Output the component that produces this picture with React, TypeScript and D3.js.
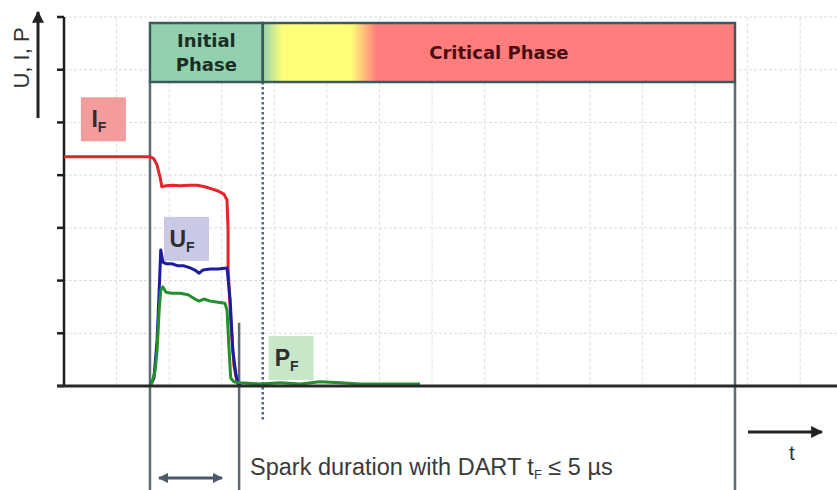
import React from 'react';
import * as d3 from 'd3';

// time in grid divisions, value in grid divisions
const currentT = [0, 1.635, 1.71, 1.77, 1.83, 1.86, 1.94, 2.05, 2.21, 2.40, 2.53, 2.68, 2.81, 2.93, 3.04, 3.10, 3.12, 3.12, 3.17, 3.23, 3.29, 3.35];
const currentV = [4.35, 4.35, 4.31, 4.19, 3.95, 3.78, 3.80, 3.81, 3.80, 3.81, 3.81, 3.78, 3.74, 3.70, 3.64, 3.53, 2.96, 2.26, 1.25, 0.40, 0.08, 0.0];

const voltageT = [1.635, 1.71, 1.77, 1.81, 1.84, 1.88, 1.94, 2.05, 2.17, 2.28, 2.40, 2.49, 2.57, 2.64, 2.78, 2.93, 3.10, 3.16, 3.21, 3.27, 3.31, 3.37];
const voltageV = [0, 0.15, 0.87, 1.82, 2.58, 2.35, 2.32, 2.32, 2.28, 2.28, 2.24, 2.20, 2.14, 2.20, 2.22, 2.22, 2.24, 1.63, 0.68, 0.21, 0.04, 0];

const powerT = [1.635, 1.67, 1.73, 1.77, 1.81, 1.84, 1.88, 1.94, 2.05, 2.21, 2.36, 2.49, 2.57, 2.66, 2.78, 2.93, 3.06, 3.10, 3.14, 3.17, 3.23, 3.35, 3.73, 4.11, 4.49, 4.87, 5.25, 5.63, 6.39, 6.77];
const powerV = [0, 0.06, 0.27, 0.68, 1.44, 1.82, 1.88, 1.78, 1.76, 1.76, 1.73, 1.65, 1.61, 1.65, 1.61, 1.59, 1.57, 1.44, 0.68, 0.15, 0.08, 0.06, 0.04, 0.06, 0.04, 0.08, 0.06, 0.04, 0.04, 0.04];

const phaseNames = ['Initial Phase', 'Critical Phase'];
const phaseStart = [1.635, 3.78];
const phaseEnd = [3.78, 12.76];
const sparkEnd = 3.33;

const labelNames = ['I', 'U', 'P'];
const labelT = [0.74, 2.32, 4.31];
const labelV = [5.06, 2.79, 0.53];

const yTicks = [0, 1, 2, 3, 4, 5, 6, 7];
const xGrid = [1, 2, 3, 4, 5, 6, 7, 8, 9, 10, 11, 12, 13, 14];

const W = 837;
const H = 490;

export default function App() {
  const x = d3.scaleLinear().domain([0, 14.7]).range([64, 837]);
  const y = d3.scaleLinear().domain([0, 7]).range([386, 17]);

  const line = d3.line<[number, number]>()
    .x(d => x(d[0]))
    .y(d => y(d[1]))
    .curve(d3.curveLinear);

  const zip = (ts: number[], vs: number[]) => ts.map((t, i) => [t, vs[i]] as [number, number]);

  const boxTop = 23;
  const boxBottom = 82;
  const labelFill = ['#f49c9c', '#c9c9e6', '#c8e7c8'];
  const sans = '"Liberation Sans", Arial, sans-serif';
  const bold = '"DejaVu Sans", Verdana, sans-serif';
  const slate = '#5b6b78';

  const x0 = x(phaseStart[1]);
  const x1 = x(phaseEnd[1]);
  const frac = (px: number) => `${((px - x0) / (x1 - x0)) * 100}%`;

  return (
    <svg width={W} height={H} style={{ position: 'absolute', left: 0, top: 0, background: '#fff' }}>
      <defs>
        <linearGradient id="crit" gradientUnits="userSpaceOnUse" x1={x0} x2={x1} y1={0} y2={0}>
          <stop offset="0%" stopColor="#93d1ae" />
          <stop offset={frac(x0 + 20)} stopColor="#ffff78" />
          <stop offset={frac(x0 + 88)} stopColor="#ffff78" />
          <stop offset={frac(x0 + 114)} stopColor="#ff7d7d" />
          <stop offset="100%" stopColor="#ff7d7d" />
        </linearGradient>
        <marker id="ah" viewBox="0 0 10 10" refX="9" refY="5" markerWidth="4" markerHeight="4" orient="auto-start-reverse">
          <path d="M0,0 L10,5 L0,10 z" fill="#222" />
        </marker>
        <marker id="ah2" viewBox="0 0 10 10" refX="9" refY="5" markerWidth="3.5" markerHeight="3.5" orient="auto-start-reverse">
          <path d="M0,0 L10,5 L0,10 z" fill="#4a5a6a" />
        </marker>
      </defs>

      {/* grid */}
      {yTicks.slice(1).map(v => (
        <line key={'gy' + v} x1={x(0)} x2={W} y1={y(v)} y2={y(v)} stroke="#dcdcdc" strokeWidth={1} strokeDasharray="3,2" />
      ))}
      {xGrid.map(t => (
        <line key={'gx' + t} x1={x(t)} x2={x(t)} y1={y(7)} y2={y(0)} stroke="#e2e2e2" strokeWidth={1} strokeDasharray="4,2" />
      ))}

      {/* y axis */}
      <line x1={x(0)} x2={x(0)} y1={y(7)} y2={y(0)} stroke="#1e1e1e" strokeWidth={2.5} />
      {yTicks.map(v => (
        <line key={'t' + v} x1={x(0) - 7} x2={x(0)} y1={y(v)} y2={y(v)} stroke="#1e1e1e" strokeWidth={2.5} />
      ))}

      {/* phase vertical lines */}
      <line x1={x(phaseStart[0])} x2={x(phaseStart[0])} y1={boxBottom} y2={H} stroke={slate} strokeWidth={2.5} />
      <line x1={x(phaseEnd[1])} x2={x(phaseEnd[1])} y1={boxBottom} y2={H} stroke={slate} strokeWidth={2.5} />
      <line x1={x(sparkEnd)} x2={x(sparkEnd)} y1={y(1.2)} y2={H} stroke={slate} strokeWidth={2.5} />
      <line x1={x(phaseStart[1])} x2={x(phaseStart[1])} y1={boxBottom} y2={420} stroke="#56648a" strokeWidth={2.5} strokeDasharray="2.5,2.5" />

      {/* labels */}
      {labelNames.map((n, i) => (
        <g key={n} transform={`translate(${x(labelT[i])},${y(labelV[i])})`}>
          <rect x={-22} y={-22} width={45} height={44} fill={labelFill[i]} />
          <text x={-4} y={8} textAnchor="middle" fontFamily={sans} fontWeight="bold" fontSize={23} fill="#2e2e2e">
            {n}
            <tspan fontSize={14} dy={5}>F</tspan>
          </text>
        </g>
      ))}

      {/* curves */}
      <path d={line(zip(currentT, currentV)) ?? ''} fill="none" stroke="#e8242a" strokeWidth={3} strokeLinejoin="round" />
      <path d={line(zip(voltageT, voltageV)) ?? ''} fill="none" stroke="#1c1ca0" strokeWidth={3} strokeLinejoin="round" />
      <path d={line(zip(powerT, powerV)) ?? ''} fill="none" stroke="#22902c" strokeWidth={3} strokeLinejoin="round" />

      {/* baseline */}
      <line x1={x(0) - 7} x2={W} y1={y(0)} y2={y(0)} stroke="#2a2a2a" strokeWidth={3} />

      {/* phase boxes */}
      <rect x={x(phaseStart[0])} y={boxTop} width={x(phaseEnd[0]) - x(phaseStart[0])} height={boxBottom - boxTop}
        fill="#93d1ae" stroke="#3c5a5c" strokeWidth={2.5} />
      <rect x={x0} y={boxTop} width={x1 - x0} height={boxBottom - boxTop}
        fill="url(#crit)" stroke="#3c5a5c" strokeWidth={2.5} />
      <text x={(x(phaseStart[0]) + x(phaseEnd[0])) / 2} textAnchor="middle" fontFamily={bold} fontWeight="bold" fontSize={18} fill="#1b2e26">
        <tspan x={(x(phaseStart[0]) + x(phaseEnd[0])) / 2} y={47}>{phaseNames[0].split(' ')[0]}</tspan>
        <tspan x={(x(phaseStart[0]) + x(phaseEnd[0])) / 2} y={71}>{phaseNames[0].split(' ')[1]}</tspan>
      </text>
      <text x={(x0 + x1) / 2} y={59} textAnchor="middle" fontFamily={bold} fontWeight="bold" fontSize={18} fill="#4a0c10">
        {phaseNames[1]}
      </text>

      {/* y label and arrow */}
      <text transform="translate(29,58) rotate(-90)" textAnchor="middle" fontFamily={sans} fontSize={22} fill="#333">U, I, P</text>
      <line x1={38} x2={38} y1={118} y2={12} stroke="#222" strokeWidth={3} markerEnd="url(#ah)" />

      {/* t arrow */}
      <line x1={748} x2={822} y1={432} y2={432} stroke="#222" strokeWidth={3} markerEnd="url(#ah)" />
      <text x={792} y={460} textAnchor="middle" fontFamily={sans} fontSize={21} fill="#333">t</text>

      {/* spark duration */}
      <line x1={159} x2={222} y1={478} y2={478} stroke="#4a5a6a" strokeWidth={3} markerStart="url(#ah2)" markerEnd="url(#ah2)" />
      <text x={250} y={475} fontFamily={sans} fontSize={23.5} fill="#3a3a3a">
        Spark duration with DART t<tspan fontSize={13} dy={4}>F</tspan><tspan dy={-4}> ≤ 5 µs</tspan>
      </text>
    </svg>
  );
}
